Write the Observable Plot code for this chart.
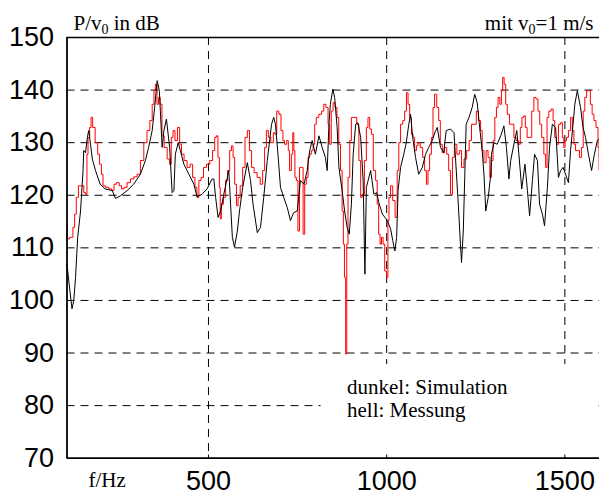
<!DOCTYPE html>
<html>
<head>
<meta charset="utf-8">
<script src="https://cdn.jsdelivr.net/npm/d3@7"></script>
<script src="https://cdn.jsdelivr.net/npm/@observablehq/plot@0.6"></script>
<style>
  html, body { margin: 0; padding: 0; background: #fff; }
  #chart { width: 599px; height: 496px; overflow: hidden; }
</style>
</head>
<body>
<div id="chart"></div>
<script>
// ---- data ----
const xDomain = [103, 1600];
const yDomain = [70, 150];
const xTicks = [500, 1000, 1500];
const yTicks = [70, 80, 90, 100, 110, 120, 130, 140, 150];
const yGrid = [80, 90, 100, 110, 120, 130, 140];

const titleLeft = "P/v0 in dB";
const titleRight = "mit v0=1 m/s";
const xLabel = "f/Hz";
const legendLines = ["dunkel: Simulation", "hell: Messung"];

// dunkel: Simulation (black)
const simFreq = [103,108,117,122,127,133,141,144,148,150,
155,160,164,169,174,183,196,210,230,239,
253,272,290,309,323,332,342,349,356,362,
365,370,375,382,391,398,403,407,415,421,
431,445,459,468,482,496,510,515,520,527,
534,543,557,562,567,573,581,587,596,609,
618,625,637,646,655,665,677,683,688,695,
702,711,721,730,739,749,758,768,777,784,
791,800,810,819,828,833,838,842,849,854,
861,866,875,882,889,895,901,906,913,919,
927,934,939,943,948,955,959,964,972,978,
988,1002,1011,1017,1023,1028,1032,1039,1048,1055,
1062,1067,1073,1081,1090,1100,1109,1118,1128,1135,
1142,1151,1160,1167,1179,1189,1193,1201,1207,1210,
1215,1219,1223,1231,1240,1247,1254,1261,1268,1273,
1278,1285,1292,1294,1301,1310,1320,1329,1336,1343,
1348,1357,1365,1371,1379,1388,1395,1401,1409,1415,
1423,1429,1437,1443,1451,1457,1465,1474,1482,1488,
1495,1502,1510,1516,1523,1528,1535,1544,1551,1558,
1567,1575,1582,1591,1598];
const simDb = [106.9,103.7,98.4,100,104.4,112,117,120.3,124.7,128.5,
128.1,131,132.3,129.7,126.9,124.7,122.1,121.2,120.9,119.4,
119.9,120.9,122.1,124,126.6,129.1,132.3,136.7,141.8,139.9,
136,129.1,132.3,134.5,129.1,120.5,120.9,127.8,130,128.5,
125.9,124,122.1,119.7,120.2,121.2,123.1,123.1,119.6,115.8,
117,120.2,124.7,118.3,112,110.1,113.2,117,121.5,126.2,
122.8,118.3,112.9,113.9,119.6,126.6,133.5,134.8,133.5,127.8,
121.5,119.6,117.7,115.2,116.7,117,122.8,122.1,124.7,128.5,
130.4,127.8,131.3,129.1,127.2,124.7,133.5,137.3,140.2,138.6,
132.9,125.3,120.9,117,113.9,112.6,118.3,127.8,133.5,133.8,
131,122.8,105,121.5,122.8,124.7,122.8,120.2,120.5,118.6,
116.4,115.2,113.6,111.4,109.4,112,120.9,125.3,127.8,130,
133.5,135.4,131,127.2,124,125.3,127.8,129.1,130.4,131.9,
132.9,129.1,128.1,132.3,132.6,131.9,127.2,118.3,110.7,107.2,
113.2,123.4,133.5,134.8,136.7,139.2,137.6,132.9,128.5,124,
117,119.6,124,127.8,130,129.7,131.3,133.2,129.1,123.1,
126.6,129.7,132.3,127.8,121.2,125.9,120.9,116.1,122.8,127.8,
126.6,118.3,116.4,114.2,121.5,129.1,133.5,132.9,123.4,124.7,
125.3,124,122.4,128.5,133.5,137.3,139.9,136.7,132.9,131,
127.5,124.7,127.5,130.4,130.7];

// hell: Messung (red)
const measFreq = [103,104,117,122,127,131,139,148,152,158,
160,164,169,172,178,186,192,197,202,206,
216,225,233,237,246,253,259,267,276,286,
295,304,314,323,332,339,345,349,353,358,
362,367,372,379,389,393,398,403,409,417,
421,428,435,445,452,459,465,470,476,482,
490,499,508,515,520,524,529,532,534,538,
546,550,557,562,567,571,576,581,585,593,
599,606,612,618,624,632,641,649,655,660,
665,671,679,685,688,695,700,707,711,716,
723,725,730,735,738,741,744,749,753,758,
763,768,772,777,782,786,791,796,800,805,
814,821,826,833,838,842,847,852,858,863,
868,873,877,880,883,887,889,894,899,903,
913,919,925,929,934,941,945,950,955,959,
966,972,975,980,983,988,992,997,1002,1005,
1008,1014,1020,1027,1032,1036,1042,1048,1053,1058,
1062,1067,1072,1076,1081,1086,1090,1098,1104,1109,
1114,1118,1123,1128,1132,1137,1144,1148,1153,1159,
1165,1172,1176,1182,1187,1193,1201,1207,1213,1221,
1228,1235,1241,1249,1254,1261,1266,1270,1276,1282,
1287,1292,1296,1301,1306,1310,1315,1320,1324,1327,
1332,1336,1341,1348,1354,1360,1366,1373,1377,1382,
1387,1391,1397,1404,1410,1416,1422,1427,1432,1438,
1444,1448,1452,1458,1465,1469,1474,1479,1485,1491,
1495,1499,1502,1507,1513,1519,1523,1528,1532,1538,
1544,1549,1554,1558,1564,1569,1574,1579,1584,1591,
1595,1597];
const measDb = [114.5,111.7,112,113.9,116.4,119.6,121.8,121.8,120.5,120.2,
127.8,131,132.9,134.8,132.9,130,127.8,125.9,124,121.8,
121.5,121.2,120.9,122.1,122.4,121.8,121.2,121.5,122.4,123.1,
123.5,124,126.6,130,132.3,134.2,137.3,139.9,141.1,137.3,
138.6,137.3,131.3,129.1,126.9,125.9,131,132.3,130.4,132.9,
129.7,127.8,126.6,125.3,125.9,123.4,121.5,119.6,122.8,123.4,
125.3,125.9,126.6,128.5,131,131.3,127.2,121.5,115.5,118.3,
119.6,122.8,124.7,128.5,129.4,127.2,122.1,118,119.6,121.8,
125.3,131,132.3,128.5,125.3,124.3,123.4,122.1,124.7,129.1,
132.3,131,130,131.9,131.6,136,135.4,132.3,130.4,129.7,
130.4,128.5,124.7,127.8,131.9,128.5,123.4,122.8,113.2,125.3,
125.3,112.6,122.1,123.4,127.2,127.8,128.5,129.7,133.5,134.8,
135.4,136,137.3,136.7,133.5,129.7,136,137.6,136.7,134.8,
129.7,124.7,117,110.7,104.4,89.8,110.7,123.4,130.4,134.8,
134.8,133.5,126.6,119.6,120.2,126.6,132.9,134.8,132.6,131.6,
124.7,122.8,118.3,112.6,110.7,112,110.7,105.6,104.4,115.2,
119.6,121.8,119,115.8,124.7,130,133.5,134.2,136,139.5,
137.3,134.8,131.6,131,128.5,129.4,130,129.1,127.2,124.7,
122.1,124.7,127.8,131,136.7,139.2,136.7,134.2,129.7,128.1,
129.1,127.8,124.7,120.2,127.2,129.7,127.8,128.5,125.3,126.9,
128.5,130.4,133.5,133.5,136,134.2,132.3,128.5,126.2,128.5,
127.2,123.4,126.6,130.4,134.8,136.7,138.6,137.3,139.9,142.4,
141.1,137.3,135.4,133.5,133.5,131,130.4,129.7,132.9,134.8,
135.1,132.9,131,131,136,138.6,138.3,136,133.5,131,
127.8,125.3,134.8,136,136.4,134.2,131,129.7,133.5,133.8,
131,129.1,130.4,131,132.3,134.8,132.3,129.7,128.5,128.5,
127.2,129.1,136,138.6,139.9,139.9,137.3,135.4,134.2,132.9,
129.1,124.7];

const sim = simFreq.map((f, i) => ({f, v: simDb[i]}));
const meas = measFreq.map((f, i) => ({f, v: measDb[i]}));

const serif = "'Liberation Serif', 'Times New Roman', serif";
const sans = "'Liberation Sans', Arial, sans-serif";
const dash = {stroke: "black", strokeWidth: 1, strokeDasharray: "8,6"};
const txt = {fontFamily: serif, fontSize: 21, fill: "black", lineAnchor: "bottom", textAnchor: "start"};

const plot = Plot.plot({
  width: 599,
  height: 496,
  marginTop: 37,
  marginBottom: 38,
  marginLeft: 66.5,
  marginRight: 0,
  style: {background: "white", fontFamily: sans, fontSize: "27px", color: "black"},
  x: {domain: xDomain, range: [66.5, 600], ticks: xTicks, tickSize: 0, tickPadding: 12.5, tickFormat: d => String(d), label: null},
  y: {domain: yDomain, range: [457.7, 37], ticks: yTicks, tickSize: 0, tickPadding: 13, tickFormat: d => String(d), label: null},
  marks: [
    Plot.ruleY(yGrid, dash),
    Plot.ruleX(xTicks, dash),
    // white background of the annotation box (covers the grid)
    Plot.rect([0], {x1: 816, x2: 1592, y1: 70.5, y2: 87.8, fill: "white"}),
    // small inward ticks on the bottom axis
    Plot.ruleX(xTicks, {y1: yDomain[0], y2: yDomain[0] + 0.6, stroke: "black", strokeWidth: 1}),
    Plot.line(meas, {x: "f", y: "v", stroke: "#ff0000", strokeWidth: 1, curve: "step"}),
    Plot.line(sim, {x: "f", y: "v", stroke: "black", strokeWidth: 1}),
    Plot.ruleY([yDomain[0]], {stroke: "black", strokeWidth: 1.8}),
    Plot.ruleY([yDomain[1]], {stroke: "black", strokeWidth: 1.5}),
    Plot.ruleX([xDomain[0]], {stroke: "black", strokeWidth: 1.8}),
    Plot.text([titleLeft], {...txt, frameAnchor: "top-left", dx: 6.5, dy: -8}),
    Plot.text([titleRight], {...txt, textAnchor: "end", frameAnchor: "top-right", dx: -6, dy: -8}),
    Plot.text([xLabel], {...txt, frameAnchor: "bottom-left", dx: 21.5, dy: 28}),
    Plot.text([legendLines[0]], {...txt, frameAnchor: "bottom-left", dx: 280, dy: -65}),
    Plot.text([legendLines[1]], {...txt, frameAnchor: "bottom-left", dx: 280, dy: -41.5})
  ]
});

// subscript the "0" of v0
d3.select(plot).selectAll("text").each(function () {
  const s = this.textContent;
  const i = s.indexOf("v0");
  if (i < 0 || this.querySelector("tspan")) return;
  const el = d3.select(this);
  el.text(null);
  el.append("tspan").text(s.slice(0, i + 1));
  el.append("tspan").attr("dy", 4).attr("font-size", 14).text("0");
  el.append("tspan").attr("dy", -4).text(s.slice(i + 2));
});

document.getElementById("chart").appendChild(plot);
</script>
</body>
</html>
